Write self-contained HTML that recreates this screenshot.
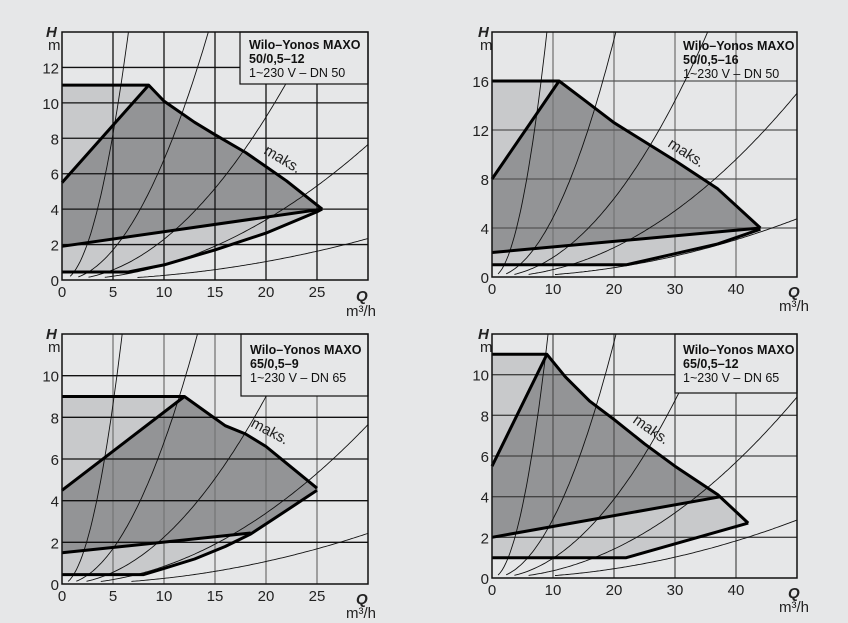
<!DOCTYPE html>
<html><head><meta charset="utf-8"><style>
html,body{margin:0;padding:0;background:#e6e7e8;}
svg{display:block;font-family:"Liberation Sans",sans-serif;}
.t{font-size:15px;fill:#222;}
.lg{font-size:12.5px;fill:#111;}
</style></head><body>
<svg id="s" width="848" height="623" viewBox="0 0 848 623" xmlns="http://www.w3.org/2000/svg">
<rect width="848" height="623" fill="#e6e7e8"/>
<g id="g"></g>
<text x="249" y="49" class="lg" font-weight="bold">Wilo–Yonos MAXO</text>
<text x="249" y="63" class="lg" font-weight="bold">50/0,5–12</text>
<text x="249" y="77" class="lg">1~230 V – DN 50</text>
<text x="683" y="50" class="lg" font-weight="bold">Wilo–Yonos MAXO</text>
<text x="683" y="64" class="lg" font-weight="bold">50/0,5–16</text>
<text x="683" y="78" class="lg">1~230 V – DN 50</text>
<text x="250" y="354" class="lg" font-weight="bold">Wilo–Yonos MAXO</text>
<text x="250" y="368" class="lg" font-weight="bold">65/0,5–9</text>
<text x="250" y="382" class="lg">1~230 V – DN 65</text>
<text x="683" y="354" class="lg" font-weight="bold">Wilo–Yonos MAXO</text>
<text x="683" y="368" class="lg" font-weight="bold">65/0,5–12</text>
<text x="683" y="382" class="lg">1~230 V – DN 65</text>
<text class="t" transform="translate(263,153) rotate(31)">maks.</text>
<text class="t" transform="translate(667,146) rotate(33)">maks.</text>
<text class="t" transform="translate(250,426) rotate(28)">maks.</text>
<text class="t" transform="translate(632,422) rotate(35)">maks.</text>
<g class="t" font-weight="bold" font-style="italic" font-size="15">
<text x="46" y="37">H</text><text x="478" y="37">H</text><text x="46" y="339">H</text><text x="478" y="339">H</text>
<text x="356" y="301">Q</text><text x="788" y="297">Q</text><text x="356" y="604">Q</text><text x="788" y="598">Q</text>
</g>
<g class="t">
<text x="48" y="50">m</text><text x="480" y="50">m</text><text x="48" y="352">m</text><text x="480" y="352">m</text>
<text x="346" y="316">m³/h</text><text x="779" y="311">m³/h</text><text x="346" y="618">m³/h</text><text x="779" y="612">m³/h</text>
</g>
<g id="lbl" class="t" font-size="16"></g>
</svg>
<script>
var NS="http://www.w3.org/2000/svg",G=document.getElementById('g'),L=document.getElementById('lbl');
function el(n,a,p){var e=document.createElementNS(NS,n);for(var k in a)e.setAttribute(k,a[k]);(p||G).appendChild(e);return e;}
function chart(c){
 var X=function(q){return c.x0+(q/c.qmax)*(c.x1-c.x0)},Y=function(h){return c.y0-(h/c.hmax)*(c.y0-c.y1)};
 function pts(a){return a.map(function(p){return X(p[0]).toFixed(1)+','+Y(p[1]).toFixed(1)}).join(' ')}
 el('rect',{x:c.x0,y:c.y1,width:c.x1-c.x0,height:c.y0-c.y1,fill:'#e6e7e8'});
 el('polygon',{points:pts(c.light),fill:'#c8c9cb'});
 el('polygon',{points:pts(c.dark),fill:'#939496'});
 c.qt.forEach(function(q){el('line',{x1:X(q),x2:X(q),y1:c.y0,y2:c.y1,stroke:c.gv,'stroke-width':1.3})});
 c.ht.forEach(function(h){el('line',{x1:c.x0,x2:c.x1,y1:Y(h),y2:Y(h),stroke:c.gh,'stroke-width':1.3})});
 var cp=el('clipPath',{id:'c'+c.id});el('rect',{x:c.x0,y:c.y1,width:c.x1-c.x0,height:c.y0-c.y1},cp);
 c.k.forEach(function(k){var a=[];for(var i=0;i<=150;i++){var q=c.qmax*i/150,h=k*q*q;if(h<0.12*c.hmax/12)continue;a.push([q,Math.min(h,c.hmax*1.05)]);if(h>c.hmax)break;}
  el('polyline',{points:pts(a),fill:'none',stroke:'#111','stroke-width':0.9,'clip-path':'url(#c'+c.id+')'});});
 el('rect',{x:c.lb[0],y:c.y1,width:c.x1-c.lb[0],height:c.lb[1]-c.y1,fill:'#e6e7e8',stroke:c.lbs?'#111':'none','stroke-width':1.2});
 c.thick.forEach(function(a){el('polyline',{points:pts(a),fill:'none',stroke:'#000','stroke-width':3,'stroke-linejoin':'round'})});
 el('rect',{x:c.x0,y:c.y1,width:c.x1-c.x0,height:c.y0-c.y1,fill:'none',stroke:'#111','stroke-width':1.5});
 c.qt.concat([0]).forEach(function(q){var t=el('text',{x:X(q),y:c.y0+17,'text-anchor':'middle'},L);t.textContent=q;});
 c.ht.concat([0]).forEach(function(h){var t=el('text',{x:c.x0-3,y:Y(h)+6,'text-anchor':'end'},L);t.textContent=h;});
}
chart({id:1,x0:62,x1:368,y0:280,y1:32,qmax:30,hmax:14,qt:[5,10,15,20,25],ht:[2,4,6,8,10,12],gv:'#111',gh:'#111',lb:[240,84],lbs:1,
 k:[0.33,0.068,0.023,0.0085,0.0026],
 light:[[0,11],[8.5,11],[10,10.1],[13,8.9],[15,8.2],[18,7.2],[20,6.4],[22,5.6],[25.5,4],[25,3.85],[20,2.65],[15,1.7],[10,0.85],[6.5,0.45],[0,0.45]],
 dark:[[0,5.5],[8.5,11],[10,10.1],[13,8.9],[15,8.2],[18,7.2],[20,6.4],[22,5.6],[25.5,4],[0,1.9]],
 thick:[[[0,11],[8.5,11],[10,10.1],[13,8.9],[15,8.2],[18,7.2],[20,6.4],[22,5.6],[25.5,4]],[[0,5.5],[8.5,11]],[[0,1.9],[25.5,4]],[[0,0.45],[6.5,0.45],[10,0.85],[15,1.7],[20,2.65],[25,3.85],[25.5,4]]]});
chart({id:2,x0:492,x1:797,y0:277,y1:32,qmax:50,hmax:20,qt:[10,20,30,40],ht:[4,8,12,16],gv:'#777',gh:'#555',lb:[797,32],lbs:0,
 k:[0.247,0.0485,0.016,0.006,0.0019],
 light:[[0,16],[11,16],[15,14.5],[20,12.6],[30,9.5],[37,7.2],[44,4],[37,2.7],[30,1.9],[22,1],[0,1]],
 dark:[[0,8],[11,16],[15,14.5],[20,12.6],[30,9.5],[37,7.2],[44,4],[0,2]],
 thick:[[[0,16],[11,16],[15,14.5],[20,12.6],[30,9.5],[37,7.2],[44,4]],[[0,8],[11,16]],[[0,2],[44,4]],[[0,1],[22,1],[30,1.9],[37,2.7],[44,3.9]]]});
chart({id:3,x0:62,x1:368,y0:584,y1:334,qmax:30,hmax:12,qt:[5,10,15,20,25],ht:[2,4,6,8,10],gv:'#777',gh:'#111',lb:[241,396],lbs:1,
 k:[0.345,0.068,0.0225,0.0085,0.0027],
 light:[[0,9],[12,9],[14,8.3],[16,7.6],[18,7.2],[20,6.6],[22,5.8],[25,4.6],[21,3.2],[18.5,2.4],[16,1.8],[13,1.2],[10,0.75],[8,0.45],[0,0.45]],
 dark:[[0,4.5],[12,9],[14,8.3],[16,7.6],[18,7.2],[20,6.6],[22,5.8],[25,4.6],[21,3.2],[18.5,2.45],[0,1.5]],
 thick:[[[0,9],[12,9],[14,8.3],[16,7.6],[18,7.2],[20,6.6],[22,5.8],[25,4.6]],[[0,4.5],[12,9]],[[0,1.5],[18.5,2.45]],[[0,0.45],[8,0.45],[10,0.75],[13,1.2],[16,1.8],[18.5,2.4],[21,3.2],[25,4.5]]]});
chart({id:4,x0:492,x1:797,y0:578,y1:334,qmax:50,hmax:12,qt:[10,20,30,40],ht:[2,4,6,8,10],gv:'#555',gh:'#444',lb:[675,393],lbs:1,
 k:[0.142,0.029,0.0097,0.00356,0.00114],
 light:[[0,11],[9,11],[12,9.9],[16,8.7],[20,7.8],[25,6.6],[30,5.5],[37,4.1],[42,2.7],[22,1],[0,1]],
 dark:[[0,5.5],[9,11],[12,9.9],[16,8.7],[20,7.8],[25,6.6],[30,5.5],[37.5,4],[0,2]],
 thick:[[[0,11],[9,11],[12,9.9],[16,8.7],[20,7.8],[25,6.6],[30,5.5],[37,4.1],[42,2.7]],[[0,5.5],[9,11]],[[0,2],[37.5,4]],[[0,1],[22,1],[42,2.7]]]});
var s=document.getElementById('s');Array.prototype.slice.call(s.querySelectorAll(':scope > text, :scope > g.t')).forEach(function(e){s.appendChild(e)});
</script>
</body></html>
